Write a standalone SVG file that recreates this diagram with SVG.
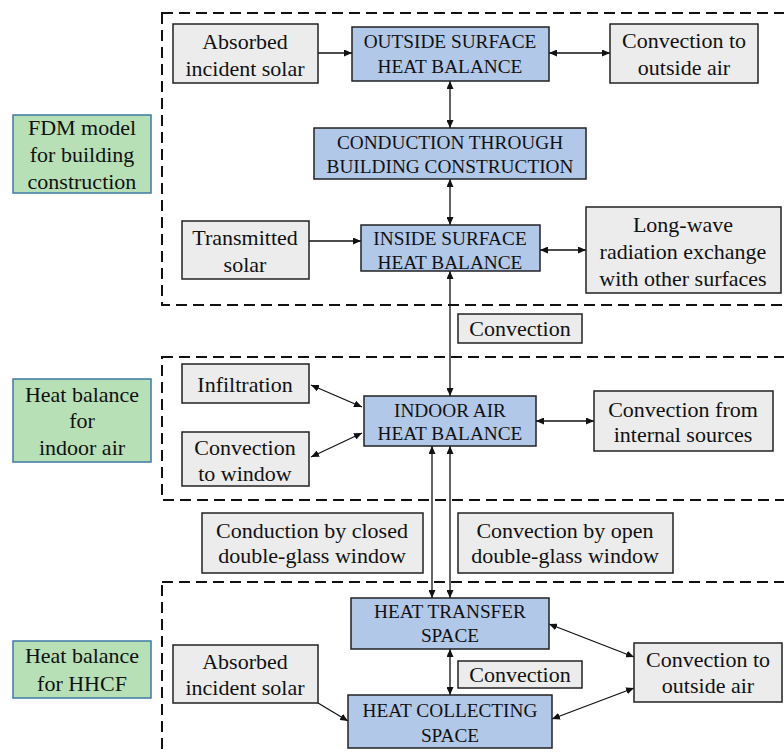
<svg xmlns="http://www.w3.org/2000/svg" width="784" height="754" viewBox="0 0 784 754">
<defs>
<marker id="ah" viewBox="0 0 10 10" refX="10" refY="5" markerWidth="8" markerHeight="7" markerUnits="userSpaceOnUse" orient="auto-start-reverse" preserveAspectRatio="none">
<path d="M0,0 L10,5 L0,10 z" fill="#111"/>
</marker>
</defs>
<style>
.dash{fill:none;stroke:#111;stroke-width:2;stroke-dasharray:11 6}
.g{fill:#ececec;stroke:#222;stroke-width:1.5}
.b{fill:#b1c8e9;stroke:#222;stroke-width:1.5}
.gr{fill:#b7e0b6;stroke:#3e7aa4;stroke-width:1.5}
.c line{stroke:#111;stroke-width:1.3}
.s line{marker-end:url(#ah)}
.d line{marker-start:url(#ah);marker-end:url(#ah)}
</style>
<rect width="784" height="754" fill="#fff"/>
<g id="frames">
<rect class="dash" x="162" y="13" width="640" height="292"/>
<rect class="dash" x="162" y="357" width="640" height="143"/>
<rect class="dash" x="162" y="582" width="640" height="200"/>
</g>
<g id="connectors" class="c">
<g class="s">
<line x1="318" y1="53" x2="352" y2="53"/>
<line x1="309" y1="241" x2="361" y2="241"/>
<line x1="318" y1="703" x2="348" y2="721"/>
</g>
<g class="d">
<line x1="549" y1="53" x2="610" y2="53"/>
<line x1="450" y1="81" x2="450" y2="128"/>
<line x1="450" y1="179" x2="450" y2="225"/>
<line x1="540" y1="250" x2="586" y2="250"/>
<line x1="450" y1="271" x2="450" y2="396"/>
<line x1="311" y1="385" x2="362" y2="407"/>
<line x1="311" y1="457" x2="362" y2="433"/>
<line x1="536" y1="421" x2="594" y2="421"/>
<line x1="432" y1="446" x2="432" y2="598"/>
<line x1="450" y1="446" x2="450" y2="598"/>
<line x1="450" y1="649" x2="450" y2="695"/>
<line x1="549" y1="624" x2="634" y2="657"/>
<line x1="552" y1="719" x2="634" y2="688"/>
</g>
</g>
<g id="fdm"><rect class="gr" x="13" y="115" width="138" height="78"/><text font-family="Liberation Serif" font-size="22" fill="#111" text-anchor="middle" x="82" y="135">FDM model</text><text font-family="Liberation Serif" font-size="22" fill="#111" text-anchor="middle" x="82" y="162">for building</text><text font-family="Liberation Serif" font-size="22" fill="#111" text-anchor="middle" x="82" y="189">construction</text></g>
<g id="hb-indoor"><rect class="gr" x="13" y="379" width="138" height="83"/><text font-family="Liberation Serif" font-size="22" fill="#111" text-anchor="middle" x="82" y="402">Heat balance</text><text font-family="Liberation Serif" font-size="22" fill="#111" text-anchor="middle" x="82" y="428">for</text><text font-family="Liberation Serif" font-size="22" fill="#111" text-anchor="middle" x="82" y="455">indoor air</text></g>
<g id="hb-hhcf"><rect class="gr" x="13" y="641" width="138" height="57"/><text font-family="Liberation Serif" font-size="22" fill="#111" text-anchor="middle" x="82" y="663">Heat balance</text><text font-family="Liberation Serif" font-size="22" fill="#111" text-anchor="middle" x="82" y="691">for HHCF</text></g>
<g id="abs1"><rect class="g" x="173" y="24" width="145" height="59"/><text font-family="Liberation Serif" font-size="22" fill="#111" text-anchor="middle" x="245" y="49">Absorbed</text><text font-family="Liberation Serif" font-size="22" fill="#111" text-anchor="middle" x="245" y="76">incident solar</text></g>
<g id="outside"><rect class="b" x="352" y="27" width="197" height="54"/><text font-family="Liberation Serif" font-size="19.3" fill="#111" text-anchor="middle" x="450" y="48">OUTSIDE SURFACE</text><text font-family="Liberation Serif" font-size="19.3" fill="#111" text-anchor="middle" x="450" y="73">HEAT BALANCE</text></g>
<g id="conv-out1"><rect class="g" x="610" y="24" width="148" height="59"/><text font-family="Liberation Serif" font-size="22" fill="#111" text-anchor="middle" x="684" y="48">Convection to</text><text font-family="Liberation Serif" font-size="22" fill="#111" text-anchor="middle" x="684" y="75">outside air</text></g>
<g id="conduction"><rect class="b" x="314" y="128" width="272" height="51"/><text font-family="Liberation Serif" font-size="19.3" fill="#111" text-anchor="middle" x="450" y="149">CONDUCTION THROUGH</text><text font-family="Liberation Serif" font-size="19.3" fill="#111" text-anchor="middle" x="450" y="173">BUILDING CONSTRUCTION</text></g>
<g id="transmitted"><rect class="g" x="182" y="221" width="127" height="58"/><text font-family="Liberation Serif" font-size="22" fill="#111" text-anchor="middle" x="245" y="245">Transmitted</text><text font-family="Liberation Serif" font-size="22" fill="#111" text-anchor="middle" x="245" y="272">solar</text></g>
<g id="inside"><rect class="b" x="361" y="225" width="179" height="46"/><text font-family="Liberation Serif" font-size="19.3" fill="#111" text-anchor="middle" x="450" y="245">INSIDE SURFACE</text><text font-family="Liberation Serif" font-size="19.3" fill="#111" text-anchor="middle" x="450" y="269">HEAT BALANCE</text></g>
<g id="longwave"><rect class="g" x="586" y="207" width="195" height="86"/><text font-family="Liberation Serif" font-size="22" fill="#111" text-anchor="middle" x="683" y="232">Long-wave</text><text font-family="Liberation Serif" font-size="22" fill="#111" text-anchor="middle" x="683" y="259">radiation exchange</text><text font-family="Liberation Serif" font-size="22" fill="#111" text-anchor="middle" x="683" y="286">with other surfaces</text></g>
<g id="convection1"><rect class="g" x="458" y="314" width="124" height="29"/><text font-family="Liberation Serif" font-size="22" fill="#111" text-anchor="middle" x="520" y="336">Convection</text></g>
<g id="infiltration"><rect class="g" x="182" y="364" width="127" height="39"/><text font-family="Liberation Serif" font-size="22" fill="#111" text-anchor="middle" x="245" y="392">Infiltration</text></g>
<g id="conv-window"><rect class="g" x="182" y="432" width="127" height="54"/><text font-family="Liberation Serif" font-size="22" fill="#111" text-anchor="middle" x="245" y="455">Convection</text><text font-family="Liberation Serif" font-size="22" fill="#111" text-anchor="middle" x="245" y="481">to window</text></g>
<g id="indoor"><rect class="b" x="364" y="396" width="172" height="50"/><text font-family="Liberation Serif" font-size="19.3" fill="#111" text-anchor="middle" x="450" y="417">INDOOR AIR</text><text font-family="Liberation Serif" font-size="19.3" fill="#111" text-anchor="middle" x="450" y="440">HEAT BALANCE</text></g>
<g id="conv-internal"><rect class="g" x="594" y="391" width="179" height="60"/><text font-family="Liberation Serif" font-size="22" fill="#111" text-anchor="middle" x="683" y="417">Convection from</text><text font-family="Liberation Serif" font-size="22" fill="#111" text-anchor="middle" x="683" y="442">internal sources</text></g>
<g id="closed"><rect class="g" x="202" y="513" width="221" height="60"/><text font-family="Liberation Serif" font-size="22" fill="#111" text-anchor="middle" x="312" y="538">Conduction by closed</text><text font-family="Liberation Serif" font-size="22" fill="#111" text-anchor="middle" x="312" y="563">double-glass window</text></g>
<g id="open"><rect class="g" x="458" y="513" width="215" height="60"/><text font-family="Liberation Serif" font-size="22" fill="#111" text-anchor="middle" x="565" y="538">Convection by open</text><text font-family="Liberation Serif" font-size="22" fill="#111" text-anchor="middle" x="565" y="563">double-glass window</text></g>
<g id="transfer"><rect class="b" x="351" y="598" width="198" height="51"/><text font-family="Liberation Serif" font-size="19.3" fill="#111" text-anchor="middle" x="450" y="618">HEAT TRANSFER</text><text font-family="Liberation Serif" font-size="19.3" fill="#111" text-anchor="middle" x="450" y="642">SPACE</text></g>
<g id="abs2"><rect class="g" x="173" y="645" width="145" height="58"/><text font-family="Liberation Serif" font-size="22" fill="#111" text-anchor="middle" x="245" y="669">Absorbed</text><text font-family="Liberation Serif" font-size="22" fill="#111" text-anchor="middle" x="245" y="695">incident solar</text></g>
<g id="convection2"><rect class="g" x="458" y="661" width="124" height="27"/><text font-family="Liberation Serif" font-size="22" fill="#111" text-anchor="middle" x="520" y="682">Convection</text></g>
<g id="collecting"><rect class="b" x="348" y="695" width="204" height="53"/><text font-family="Liberation Serif" font-size="19.3" fill="#111" text-anchor="middle" x="450" y="717">HEAT COLLECTING</text><text font-family="Liberation Serif" font-size="19.3" fill="#111" text-anchor="middle" x="450" y="742">SPACE</text></g>
<g id="conv-out2"><rect class="g" x="634" y="643" width="148" height="59"/><text font-family="Liberation Serif" font-size="22" fill="#111" text-anchor="middle" x="708" y="667">Convection to</text><text font-family="Liberation Serif" font-size="22" fill="#111" text-anchor="middle" x="708" y="693">outside air</text></g>
</svg>
